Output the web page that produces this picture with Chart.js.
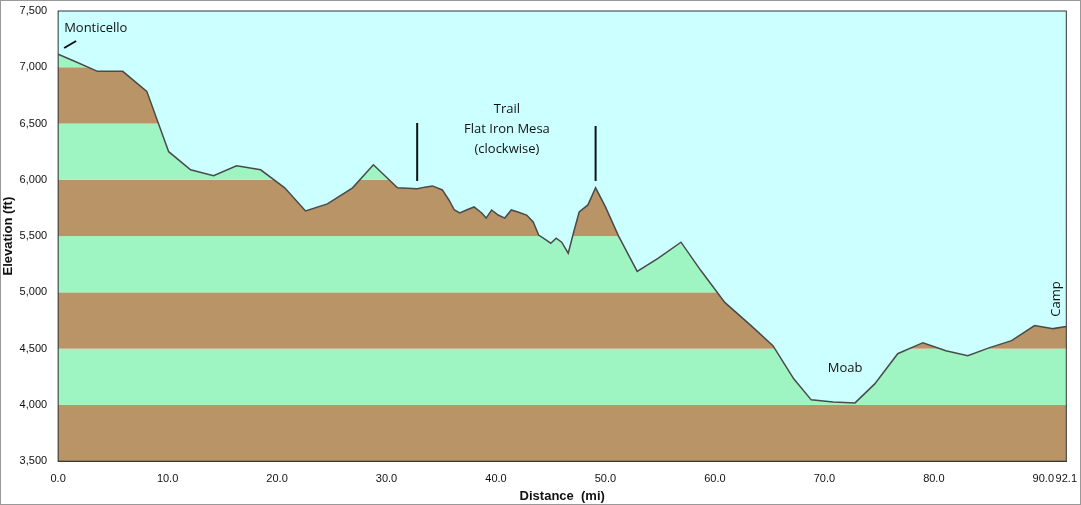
<!DOCTYPE html>
<html>
<head>
<meta charset="utf-8">
<script src="https://cdn.jsdelivr.net/npm/chart.js@4.4.1/dist/chart.umd.min.js"></script>
<style>
  body { margin: 0; background: #fff; }
  #wrap { width: 1079px; height: 503px; border: 1px solid #999; }
</style>
</head>
<body>
<div id="wrap"><canvas id="profile" width="1079" height="503"></canvas></div>
<script>
const distances = [0, 1.5, 3.6, 5.9, 8.1, 10.1, 12.1, 14.2, 16.3, 18.5, 20.7, 22.6, 24.6, 26.9, 28.8, 31.0, 32.8, 33.5,
    34.2, 35.1, 35.7, 36.2, 36.7, 37.3, 38.0, 38.7, 39.1, 39.6, 40.2, 40.8, 41.4, 42.0, 42.8, 43.4, 43.9, 44.6, 45.0,
    45.5, 46.0, 46.6, 47.1, 47.6, 48.4, 49.1, 50.0, 51.2, 52.9, 54.8, 56.9, 58.7, 60.9, 63.3, 65.3, 67.2, 68.8, 70.8,
    72.8, 74.6, 76.7, 79.0, 81.1, 83.1, 85.1, 87.1, 89.2, 90.9, 92.1];
const elevations = [7116, 7053, 6964, 6964, 6786, 6250, 6089, 6036, 6125, 6089, 5929, 5723, 5786, 5929, 6134, 5929, 5920, 5935,
    5946, 5910, 5821, 5732, 5705, 5732, 5759, 5705, 5660, 5732, 5687, 5660, 5732, 5714, 5687, 5625, 5509, 5464, 5437,
    5482, 5446, 5348, 5536, 5714, 5777, 5929, 5759, 5500, 5187, 5303, 5446, 5196, 4911, 4705, 4527, 4232, 4045, 4027,
    4018, 4187, 4455, 4553, 4482, 4437, 4509, 4571, 4705, 4678, 4696];
const xTicks = [0, 10, 20, 30, 40, 50, 60, 70, 80, 90, 92.1];
const yTicks = [3500, 4000, 4500, 5000, 5500, 6000, 6500, 7000, 7500];

const BROWN = '#b89466', GREEN = '#9ff5c2', SKY = '#ccffff';

const bandsPlugin = {
    id: 'bands',
    beforeDatasetsDraw(chart) {
        const { ctx, chartArea: a, scales: { y } } = chart;
        for (let i = 0; i < yTicks.length - 1; i++) {
            const top = y.getPixelForValue(yTicks[i + 1]);
            const bot = y.getPixelForValue(yTicks[i]);
            ctx.fillStyle = i % 2 === 0 ? BROWN : GREEN;
            ctx.fillRect(a.left, top, a.right - a.left, bot - top);
        }
    }
};

const notesPlugin = {
    id: 'notes',
    afterDraw(chart) {
        const { ctx, chartArea: a, scales: { x, y } } = chart;
        ctx.save();
        ctx.fillStyle = '#111';
        ctx.strokeStyle = '#111';
        ctx.font = '13px "Open Sans", sans-serif';
        ctx.textBaseline = 'middle';
        ctx.textAlign = 'left';
        ctx.fillText('Monticello', a.left + 6, 27);
        ctx.lineWidth = 2;
        ctx.beginPath();
        ctx.moveTo(a.left + 6, 47); ctx.lineTo(a.left + 18, 40);
        ctx.stroke();
        ctx.textAlign = 'center';
        const cx = x.getPixelForValue(41.0);
        ctx.fillText('Trail', cx, 108);
        ctx.fillText('Flat Iron Mesa', cx, 128);
        ctx.fillText('(clockwise)', cx, 148);
        [[32.8, 122], [49.1, 125]].forEach(([d, t]) => {
            const px = x.getPixelForValue(d);
            ctx.beginPath();
            ctx.moveTo(px, t); ctx.lineTo(px, y.getPixelForValue(5990));
            ctx.stroke();
        });
        ctx.fillText('Moab', x.getPixelForValue(71.9), 367);
        ctx.translate(a.right - 10, 298);
        ctx.rotate(-Math.PI / 2);
        ctx.fillText('Camp', 0, 0);
        ctx.restore();
        ctx.strokeStyle = '#333';
        ctx.lineWidth = 1;
        ctx.strokeRect(a.left, a.top, a.right - a.left, a.bottom - a.top);
    }
};

new Chart(document.getElementById('profile'), {
    type: 'line',
    data: {
        datasets: [{
            data: distances.map((d, i) => ({ x: d, y: elevations[i] })),
            borderColor: '#4a4a4a',
            borderWidth: 1.5,
            backgroundColor: SKY,
            fill: 'end',
            pointRadius: 0,
            tension: 0
        }]
    },
    options: {
        responsive: false,
        animation: false,
        layout: { padding: { top: 10, right: 6 } },
        plugins: { legend: { display: false }, tooltip: { enabled: false } },
        scales: {
            x: {
                type: 'linear', min: 0, max: 92.1,
                afterBuildTicks: s => { s.ticks = xTicks.map(v => ({ value: v })); },
                ticks: { autoSkip: false, maxRotation: 0, color: '#111', font: { size: 11 },
                         callback: v => v.toFixed(1) },
                grid: { display: false, drawTicks: true },
                border: { color: '#333' },
                title: { display: true, text: 'Distance  (mi)', color: '#111', padding: 0,
                         font: { size: 13, weight: 'bold' } }
            },
            y: {
                min: 3500, max: 7500,
                afterBuildTicks: s => { s.ticks = yTicks.map(v => ({ value: v })); },
                ticks: { color: '#111', font: { size: 11 } },
                grid: { display: false },
                border: { color: '#333' },
                title: { display: true, text: 'Elevation (ft)', color: '#111', padding: 0,
                         font: { size: 13, weight: 'bold' } }
            }
        }
    },
    plugins: [bandsPlugin, notesPlugin]
});
</script>
</body>
</html>
